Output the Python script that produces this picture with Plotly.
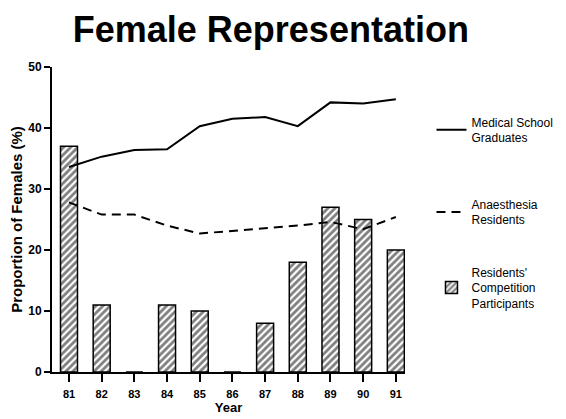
import plotly.graph_objects as go

years = [81, 82, 83, 84, 85, 86, 87, 88, 89, 90, 91]
year_labels = ["81", "82", "83", "84", "85", "86", "87", "88", "89", "90", "91"]
med_grads = [33.6, 35.3, 36.4, 36.5, 40.3, 41.5, 41.8, 40.3, 44.2, 44.0, 44.7]
anaes_res = [27.8, 25.8, 25.8, 24.0, 22.7, 23.1, 23.6, 24.0, 24.6, 23.4, 25.4]
competition = [37, 11, 0, 11, 10, 0, 8, 18, 27, 25, 20]

FONT = "Liberation Sans, Arial, sans-serif"

fig = go.Figure()
fig.add_trace(go.Scatter(
    x=years, y=med_grads, mode="lines", name="Medical School<br>Graduates",
    line=dict(color="black", width=2), legend="legend"))
fig.add_trace(go.Scatter(
    x=years, y=anaes_res, mode="lines", name="Anaesthesia<br>Residents",
    line=dict(color="black", width=2, dash="9px,6px"), legend="legend2"))
fig.add_trace(go.Bar(
    x=years, y=competition, name="Residents'<br>Competition<br>Participants",
    width=0.52, legend="legend3",
    marker=dict(color="white", line=dict(color="black", width=1.5),
                pattern=dict(shape="/", fgcolor="black", bgcolor="white",
                             size=5, solidity=0.55))))

leg_common = dict(x=1.075, xanchor="left", yanchor="top", itemwidth=30,
                  font=dict(size=12, family=FONT), bgcolor="rgba(0,0,0,0)")

fig.update_layout(
    width=558, height=411,
    margin=dict(l=44, r=161, t=59, b=47, autoexpand=False),
    paper_bgcolor="white", plot_bgcolor="white",
    font=dict(family=FONT, color="black", size=12),
    title=dict(text="<b>Female Representation</b>", x=0.471, xanchor="center",
               y=0.947, yanchor="middle", font=dict(size=36, family=FONT)),
    showlegend=True,
    legend=dict(y=0.867, **leg_common),
    legend2=dict(y=0.597, **leg_common),
    legend3=dict(y=0.375, **leg_common),
)
fig.update_xaxes(
    range=[80.48, 91.28], tickvals=years, ticktext=year_labels,
    showline=True, linecolor="black", linewidth=2, ticks="outside",
    ticklen=8, tickwidth=1.5, tickcolor="black", showgrid=False, zeroline=False,
    automargin=False, ticklabelstandoff=3,
    tickfont=dict(size=11, family=FONT, weight="bold"),
    title=dict(text="<b>Year</b>", font=dict(size=13), standoff=2))
fig.update_yaxes(
    range=[0, 50], tickvals=[0, 10, 20, 30, 40, 50],
    showline=True, linecolor="black", linewidth=2, ticks="outside",
    ticklen=6, tickwidth=1.5, tickcolor="black", showgrid=False, zeroline=False,
    ticklabelstandoff=0, automargin=False,
    tickfont=dict(size=12, family=FONT, weight="bold"),
    title=dict(text="<b>Proportion of Females (%)</b>", font=dict(size=15), standoff=6))

fig.write_html("out.html")
